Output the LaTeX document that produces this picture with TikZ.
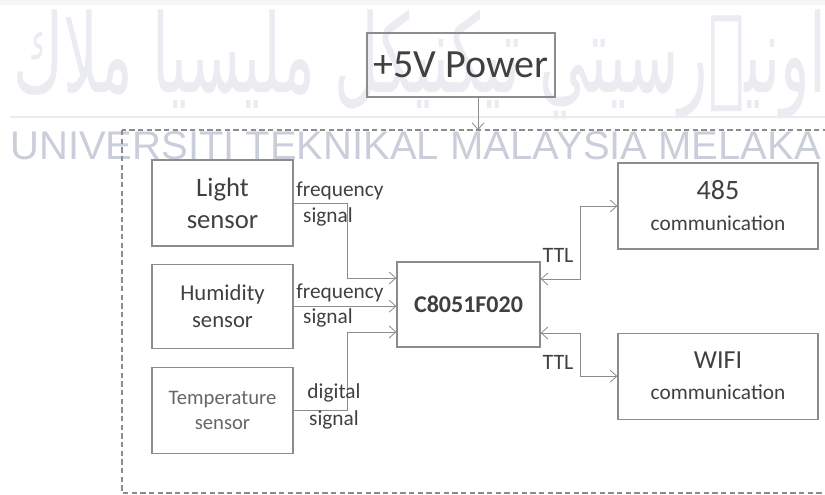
\documentclass[tikz,border=0pt]{standalone}
\usepackage{fontspec}
\setmainfont{Carlito}
\newfontfamily\wmfont{Liberation Sans}
\newfontfamily\jawifont[Script=Arabic]{DejaVu Sans}
\TeXXeTstate=1
\usepackage{graphicx}
\usepackage{xcolor}
\usepackage{tikz}
\usetikzlibrary{arrows.meta, positioning}

\definecolor{linegray}{HTML}{8C8C8C}
\definecolor{textgray}{HTML}{404040}
\definecolor{wmblue}{HTML}{C9CEDA}
\definecolor{wmlight}{HTML}{EAECF2}

\begin{document}
\begin{tikzpicture}[x=0.75pt, y=-0.75pt,
        block/.style={draw=linegray, line width=0.9pt, align=center, text=textgray, inner sep=0pt},
        sig/.style={draw=linegray, line width=0.6pt, -{Straight Barb[length=5pt, width=9pt]}},
        bus/.style={sig, {Straight Barb[length=5pt, width=9pt]}-{Straight Barb[length=5pt, width=9pt]}},
        lbl/.style={text=textgray, inner sep=0pt, font=\fontsize{16}{19}\selectfont}
    ]
    \useasboundingbox (0,0) rectangle (825,495);

    % watermark behind the diagram
    \fill[gray!8] (0,0) rectangle (825,5);
    \draw[wmlight, line width=2.2pt] (10,117) -- (825,117);
    \node[text=wmlight, inner sep=0pt] (jawi) at (420,64) {\resizebox{610pt}{62pt}{\jawifont\beginR اونيۏرسيتي تيكنيكل مليسيا ملاك\endR}};
    \node[anchor=base west, text=wmblue, inner sep=0pt, font=\wmfont\fontsize{30}{36}\selectfont] (univ) at (10,160) {UNIVERSITI TEKNIKAL MALAYSIA MELAKA};

    % supply and frame
    \node[block, minimum width=141pt, minimum height=48pt, font=\fontsize{30}{36}\selectfont] (power) at (461,65) {+5V Power};
    \draw[linegray, line width=0.8pt, dash pattern=on 4pt off 2.5pt] (122,130) rectangle (840,493);
    \coordinate (frametop) at (478,130);
    \draw[sig] (power.south -| frametop) -- (frametop);

    % sensors
    \node[block, minimum width=105.75pt, minimum height=64.5pt, font=\fontsize{20}{24}\selectfont] (light) at (222.5,203) {Light\\sensor};
    \node[block, minimum width=105.75pt, minimum height=63pt, font=\fontsize{17}{20.5}\selectfont, below=12.75pt of light] (humid) {Humidity\\sensor};
    \node[block, minimum width=105.75pt, minimum height=64.5pt, font=\fontsize{15.5}{19}\selectfont, text=textgray!80, below=13.5pt of humid] (temp) {Temperature\\sensor};

    \node[block, minimum width=107.25pt, minimum height=63.75pt, font=\bfseries\fontsize{18}{22}\selectfont] (mcu) at (468.5,304.5) {C8051F020};

    \node[block, minimum width=150pt, minimum height=64.5pt, font=\fontsize{16}{23.25}\selectfont] (rs485) at (718,206) {{\fontsize{21}{24}\selectfont 485}\\communication};
    \node[block, minimum width=150pt, minimum height=64.5pt, font=\fontsize{16}{23.25}\selectfont, below=62.25pt of rs485] (wifi) {{\fontsize{19.5}{24}\selectfont WIFI}\\communication};

    % sensor lines
    \coordinate (jlight) at (347,278);
    \coordinate (jtemp) at (347,332);
    \draw[sig] (light.east) -| (jlight) -- (jlight -| mcu.west);
    \draw[sig] (humid.east) -- (humid.east -| mcu.west);
    \draw[sig] (temp.east) -| (jtemp) -- (jtemp -| mcu.west);

    \node[lbl] (lfreq) at (340,191) {frequency};
    \node[lbl] (lsig) at (328,217) {signal};
    \node[lbl] (hfreq) at (340,293) {frequency};
    \node[lbl] (hsig) at (328,318) {signal};
    \node[lbl] (tdig) at (334,393) {digital};
    \node[lbl] (tsig) at (334,420) {signal};

    % TTL links
    \coordinate (jrs) at (580,279);
    \coordinate (jwifi) at (580,333);
    \draw[bus] (jrs -| mcu.east) -- (jrs) |- (rs485.west);
    \draw[bus] (jwifi -| mcu.east) -- (jwifi) |- (wifi.west);
    \node[lbl, font=\fontsize{16.5}{20}\selectfont] (ttlup) at (558,255) {TTL};
    \node[lbl, font=\fontsize{16.5}{20}\selectfont] (ttldn) at (558,362) {TTL};
\end{tikzpicture}
\end{document}
